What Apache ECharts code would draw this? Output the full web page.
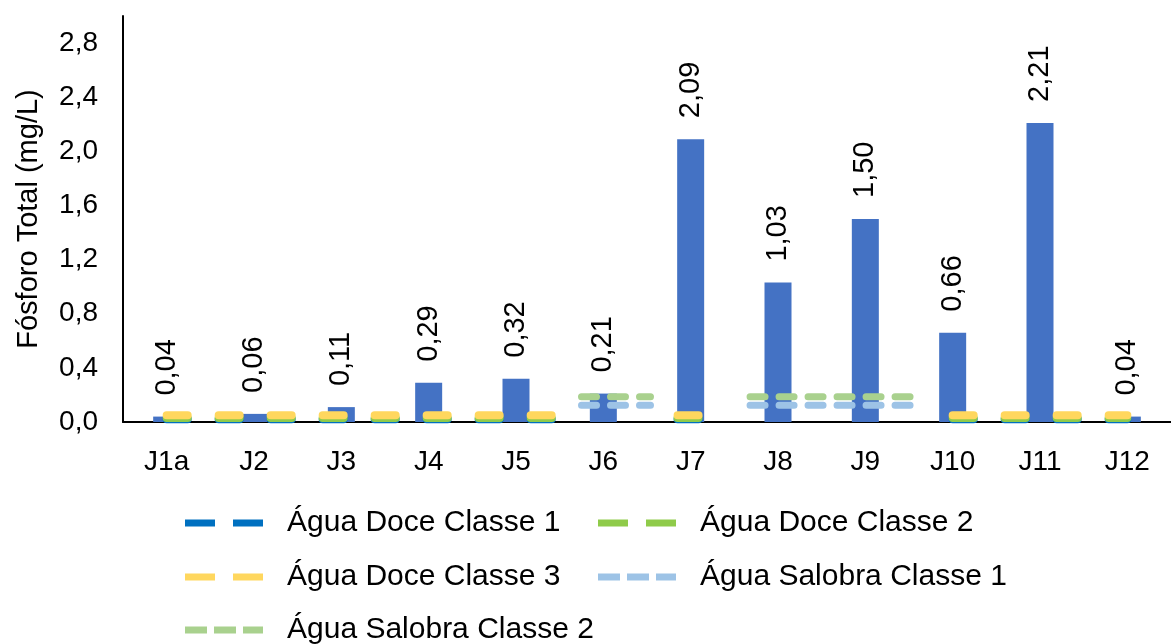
<!DOCTYPE html>
<html>
<head>
<meta charset="utf-8">
<script src="https://cdn.jsdelivr.net/npm/echarts@6/dist/echarts.min.js"></script>
<style>
  html, body { margin: 0; padding: 0; background: #fff; }
  #chart { width: 1171px; height: 644px; }
</style>
</head>
<body>
<div id="chart"></div>
<script>
// pontos de coleta e fósforo total (mg/L)
var pontos = ['J1a', 'J2', 'J3', 'J4', 'J5', 'J6', 'J7', 'J8', 'J9', 'J10', 'J11', 'J12'];
var fosforo = [0.04, 0.06, 0.11, 0.29, 0.32, 0.21, 2.09, 1.03, 1.50, 0.66, 2.21, 0.04];
var yTicks = [0, 0.4, 0.8, 1.2, 1.6, 2.0, 2.4, 2.8];

// limites (CONAMA) e trechos onde aparecem, em unidades de categoria
var limDoce1 = 0.020;
var limDoce2 = 0.030;
var limDoce3 = 0.050;
var limSalobra1 = 0.124;
var limSalobra2 = 0.186;
var trechosDoce = [[0.5, 5.0], [6.35, 6.62], [9.5, 11.5]];
var trechosSalobra = [[5.25, 6.04], [7.18, 9.1]];

var fonte = 'Liberation Sans';

function linhaLimite(trechos, valor) {
    var d = [];
    trechos.forEach(function (t) {
        d.push([t[0], valor]);
        d.push([t[1], valor]);
        d.push([t[1], '-']);
    });
    return d;
}

var tracoDoce = [21, 31];
var tracoSalobra = [15, 14];
// icones da legenda (tracejado)
var iconeDoce = 'path://M0,0H30V7H0Z M48,0H78V7H48Z';
var iconeSalobra = 'path://M0,0H22V7H0Z M29,0H51V7H29Z M58,0H78V7H58Z';

function serieLinha(nome, cor, trechos, valor, traco, larg) {
    return {
        name: nome,
        type: 'line',
        xAxisIndex: 1,
        yAxisIndex: 0,
        symbol: 'none',
        silent: true,
        connectNulls: false,
        lineStyle: { color: cor, width: larg, type: traco, cap: 'round' },
        itemStyle: { color: cor },
        data: linhaLimite(trechos, valor)
    };
}

function legenda(nome, left, top, icone) {
    return {
        left: left,
        top: top,
        padding: 0,
        itemWidth: 78,
        itemHeight: 7,
        icon: icone,
        itemStyle: { borderWidth: 0 },
        textStyle: { fontFamily: fonte, fontSize: 30, color: '#000', padding: [0, 0, 0, 19] },
        data: [nome]
    };
}

var myChart = echarts.init(document.getElementById('chart'));

var option = {
    animation: false,
    backgroundColor: '#fff',
    textStyle: { fontFamily: fonte },
    grid: { left: 123, right: -5, top: 16, bottom: 222, containLabel: false },
    legend: [
        legenda('Água Doce Classe 1', 185, 508, iconeDoce),
        legenda('Água Doce Classe 2', 598, 508, iconeDoce),
        legenda('Água Doce Classe 3', 185, 562, iconeDoce),
        legenda('Água Salobra Classe 1', 598, 562, iconeSalobra),
        legenda('Água Salobra Classe 2', 185, 615, iconeSalobra)
    ],
    xAxis: [
        {
            type: 'category',
            data: pontos,
            axisLine: { lineStyle: { color: '#000', width: 2 } },
            axisTick: { show: false },
            axisLabel: { fontFamily: fonte, fontSize: 28, color: '#000', margin: 26 }
        },
        {
            type: 'value',
            min: 0,
            max: 12,
            show: false
        }
    ],
    yAxis: {
        type: 'value',
        min: 0,
        max: 3.0,
        interval: 0.4,
        name: 'Fósforo Total (mg/L)',
        nameLocation: 'middle',
        nameGap: 80,
        nameTextStyle: { fontFamily: fonte, fontSize: 29, color: '#000' },
        axisLine: { show: true, lineStyle: { color: '#000', width: 2 } },
        axisTick: { show: false },
        splitLine: { show: false },
        axisLabel: {
            fontFamily: fonte,
            fontSize: 28,
            color: '#000',
            margin: 25,
            showMaxLabel: false,
            formatter: function (v) {
                if (yTicks.indexOf(Math.round(v * 10) / 10) < 0) return '';
                return v.toFixed(1).replace('.', ',');
            }
        }
    },
    series: [
        {
            name: 'Fósforo Total',
            type: 'bar',
            barWidth: 27,
            itemStyle: { color: '#4472C4' },
            label: {
                show: true,
                position: 'top',
                rotate: 90,
                align: 'left',
                verticalAlign: 'middle',
                distance: 21,
                fontFamily: fonte,
                fontSize: 29,
                color: '#000',
                formatter: function (p) { return p.value.toFixed(2).replace('.', ','); }
            },
            data: fosforo
        },
        serieLinha('Água Doce Classe 1', '#0070C0', trechosDoce, limDoce1, tracoDoce, 8),
        serieLinha('Água Doce Classe 2', '#8FCB4A', trechosDoce, limDoce2, tracoDoce, 8),
        serieLinha('Água Doce Classe 3', '#FFD75E', trechosDoce, limDoce3, tracoDoce, 8),
        serieLinha('Água Salobra Classe 1', '#9DC3E6', trechosSalobra, limSalobra1, tracoSalobra, 7),
        serieLinha('Água Salobra Classe 2', '#A9D18E', trechosSalobra, limSalobra2, tracoSalobra, 7)
    ]
};

myChart.setOption(option);
</script>
</body>
</html>
